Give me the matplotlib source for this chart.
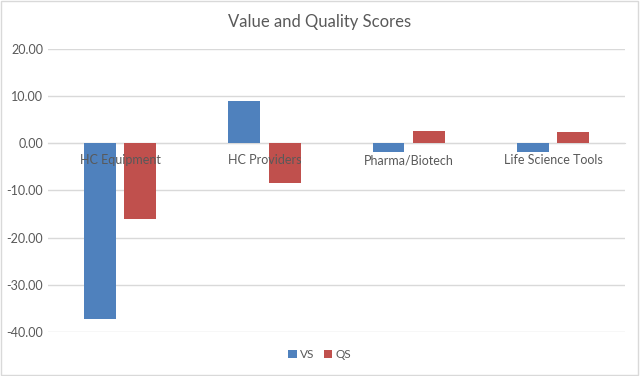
import matplotlib.pyplot as plt
import numpy as np
from matplotlib.patches import Rectangle

plt.rcParams['font.family'] = ['Lato', 'DejaVu Sans']

# data
categories = ['HC Equipment', 'HC Providers', 'Pharma/Biotech', 'Life Science Tools']
vs_values = [-37.3, 8.9, -1.9, -1.9]
qs_values = [-16.1, -8.5, 2.5, 2.3]
y_ticks = [-40, -30, -20, -10, 0, 10, 20]

blue = '#4F81BD'
red = '#C0504D'
text_col = '#595959'
grid_col = '#D9D9D9'

fig = plt.figure(figsize=(6.4, 3.76), dpi=100)
ax = fig.add_axes([0.075, 0.117, 0.902, 0.753])

x = np.arange(len(categories))
w = 0.22
gap = 0.03
ax.bar(x - w / 2 - gap, vs_values, w, color=blue, label='VS', zorder=3)
ax.bar(x + w / 2 + gap, qs_values, w, color=red, label='QS', zorder=3)

ax.set_xlim(-0.5, len(categories) - 0.5)
ax.set_ylim(-40, 20)
ax.set_yticks(y_ticks)
ax.set_yticklabels([f'{v:.2f}' for v in y_ticks])
ax.yaxis.grid(True, color=grid_col, linewidth=1, zorder=0)

# category axis sits on zero, labels just below it and drawn over the bars
ax.spines['bottom'].set_position(('data', 0))
ax.spines['bottom'].set_color(grid_col)
ax.spines['bottom'].set_zorder(2)
for s in ['top', 'right', 'left']:
    ax.spines[s].set_visible(False)
ax.set_xticks(x)
ax.set_xticklabels(categories)
ax.xaxis.set_zorder(5)
ax.tick_params(axis='both', length=0, colors=text_col, labelsize=9)
ax.tick_params(axis='x', pad=8)

fig.text(0.5, 0.941, 'Value and Quality Scores', ha='center', va='center',
         fontsize=12, color=text_col)

fig.legend(loc='center', bbox_to_anchor=(0.5, 0.056), ncol=2, frameon=False,
           fontsize=8.5, handlelength=0.7, handleheight=0.7, handletextpad=0.3,
           columnspacing=0.8, labelcolor=text_col)

fig.patches.append(Rectangle((0.002, 0.003), 0.995, 0.994, transform=fig.transFigure,
                             fill=False, edgecolor=grid_col, linewidth=1))

fig.savefig('out.png', dpi=100)
